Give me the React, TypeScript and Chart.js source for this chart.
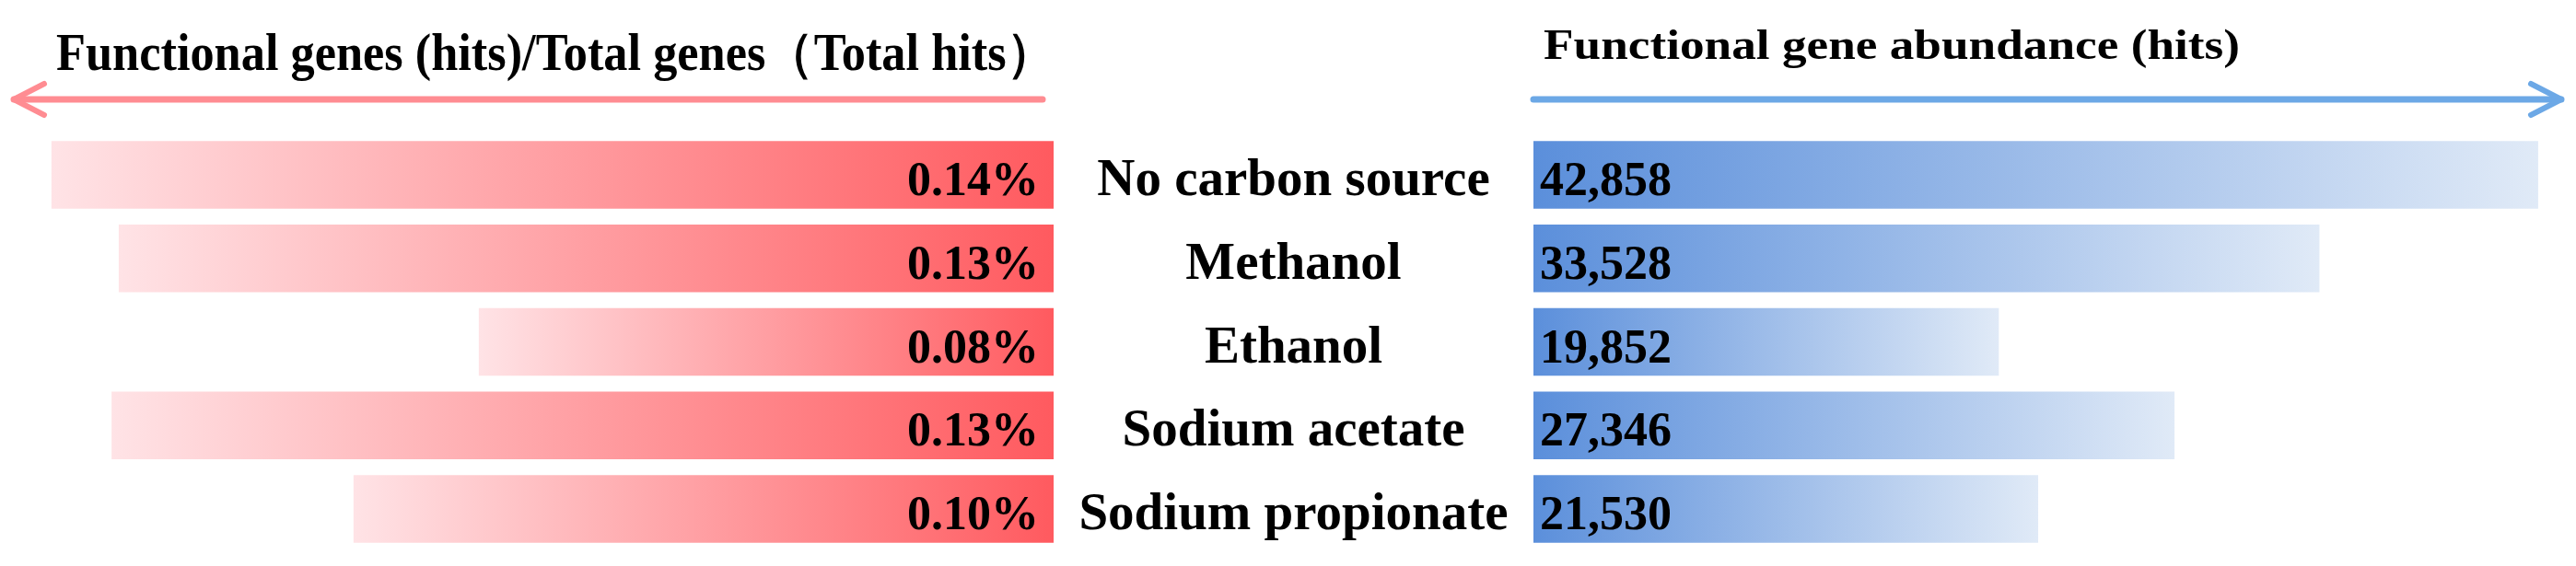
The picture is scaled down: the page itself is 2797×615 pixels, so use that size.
import React, { useEffect, useRef } from 'react';
import { Chart, registerables } from 'chart.js';

Chart.register(...registerables);

// ---- data ----
const categories = ['No carbon source', 'Methanol', 'Ethanol', 'Sodium acetate', 'Sodium propionate'];
const ratioPercent = [0.14, 0.1306, 0.0803, 0.1316, 0.0978];
const abundanceHits = [42858, 33528, 19852, 27346, 21530];
const leftTitle = 'Functional genes (hits)/Total genes（Total hits）';
const rightTitle = 'Functional gene abundance (hits)';
const ratioAxisMax = 0.145;
const hitsAxisMax = 44000;

// ---- layout / style ----
const W = 2797;
const H = 615;
const LEFT_W = 1144;
const RIGHT_W = W - LEFT_W;
const GAP_W = 521;
const PAD_TOP = 144.5;
const PAD_BOTTOM = 16.5;
const SERIF = "'Liberation Serif', 'Times New Roman', serif";
const RED_LIGHT = [255, 227, 230];
const RED_DARK = [255, 90, 95];
const BLUE_DARK = [91, 143, 219];
const BLUE_LIGHT = [224, 234, 247];
const rgb = (c: number[]) => `rgb(${c[0]},${c[1]},${c[2]})`;

function drawFitText(ctx: CanvasRenderingContext2D, text: string, x: number, y: number, font: string, targetW: number) {
  ctx.save();
  ctx.font = font;
  const w = ctx.measureText(text).width;
  ctx.translate(x, y);
  ctx.scale(targetW / w, 1);
  ctx.textAlign = 'left';
  ctx.textBaseline = 'alphabetic';
  ctx.fillStyle = '#000';
  ctx.fillText(text, 0, 0);
  ctx.restore();
}

function drawArrow(ctx: CanvasRenderingContext2D, x0: number, tip: number, y: number, color: string) {
  const dir = tip > x0 ? 1 : -1;
  ctx.save();
  ctx.strokeStyle = color;
  ctx.lineWidth = 7;
  ctx.lineCap = 'round';
  ctx.lineJoin = 'round';
  ctx.beginPath();
  ctx.moveTo(x0, y);
  ctx.lineTo(tip, y);
  ctx.stroke();
  ctx.lineWidth = 6;
  ctx.beginPath();
  ctx.moveTo(tip - dir * 33, y - 17);
  ctx.lineTo(tip, y);
  ctx.lineTo(tip - dir * 33, y + 17);
  ctx.stroke();
  ctx.restore();
}

function gradientFor(c: any, light: number[], dark: number[], lightAtValueEnd: boolean) {
  const chart = c.chart;
  if (!chart.chartArea || c.type !== 'data') return rgb(dark);
  const xs = chart.scales.x;
  const p0 = xs.getPixelForValue(0);
  const p1 = xs.getPixelForValue(c.raw);
  const g = chart.ctx.createLinearGradient(p1, 0, p0, 0);
  if (lightAtValueEnd) {
    g.addColorStop(0, rgb(light));
    g.addColorStop(1, rgb(dark));
  } else {
    g.addColorStop(0, rgb(light));
    g.addColorStop(1, rgb(dark));
  }
  return g;
}

export default function App() {
  const leftRef = useRef<HTMLCanvasElement>(null);
  const rightRef = useRef<HTMLCanvasElement>(null);

  useEffect(() => {
    const leftPlugin = {
      id: 'leftDecor',
      afterDatasetsDraw(chart: any) {
        const ctx = chart.ctx as CanvasRenderingContext2D;
        const meta = chart.getDatasetMeta(0);
        const base = chart.scales.x.getPixelForValue(0);
        ctx.save();
        ctx.font = `bold 52px ${SERIF}`;
        ctx.fillStyle = '#000';
        ctx.textAlign = 'right';
        ctx.textBaseline = 'alphabetic';
        meta.data.forEach((bar: any, i: number) => {
          ctx.fillText(ratioPercent[i].toFixed(2) + '%', base - 16, bar.y + 22);
        });
        ctx.restore();
      },
      afterDraw(chart: any) {
        const ctx = chart.ctx as CanvasRenderingContext2D;
        drawFitText(ctx, leftTitle, 61, 76, `bold 56px ${SERIF}`, 1084);
        drawArrow(ctx, chart.chartArea.right - 12, 15, 108, '#FF8C92');
      },
    };

    const rightPlugin = {
      id: 'rightDecor',
      afterDatasetsDraw(chart: any) {
        const ctx = chart.ctx as CanvasRenderingContext2D;
        const meta = chart.getDatasetMeta(0);
        const base = chart.scales.x.getPixelForValue(0);
        const ys = chart.scales.y;
        ctx.save();
        ctx.font = `bold 52px ${SERIF}`;
        ctx.fillStyle = '#000';
        ctx.textAlign = 'left';
        ctx.textBaseline = 'alphabetic';
        meta.data.forEach((bar: any, i: number) => {
          ctx.fillText(abundanceHits[i].toLocaleString('en-US'), base + 7, bar.y + 22);
        });
        ctx.font = `bold 57px ${SERIF}`;
        ctx.textAlign = 'center';
        const cx = chart.chartArea.left - GAP_W / 2;
        categories.forEach((label, i) => {
          ctx.fillText(label, cx, ys.getPixelForTick(i) + 22);
        });
        ctx.restore();
      },
      afterDraw(chart: any) {
        const ctx = chart.ctx as CanvasRenderingContext2D;
        drawFitText(ctx, rightTitle, chart.chartArea.left + 11, 64, `bold 47px ${SERIF}`, 756);
        drawArrow(ctx, chart.chartArea.left, 1637, 108, '#6CA8E6');
      },
    };

    const left = new Chart(leftRef.current!, {
      type: 'bar',
      data: {
        labels: categories,
        datasets: [
          {
            data: ratioPercent,
            backgroundColor: (c: any) => gradientFor(c, RED_LIGHT, RED_DARK, true),
            borderWidth: 0,
            barPercentage: 0.81,
            categoryPercentage: 1,
          },
        ],
      },
      options: {
        indexAxis: 'y',
        responsive: false,
        animation: false,
        devicePixelRatio: 1,
        layout: { padding: { left: 17, right: 0, top: PAD_TOP, bottom: PAD_BOTTOM } },
        plugins: { legend: { display: false }, tooltip: { enabled: false }, title: { display: false } },
        scales: {
          x: { type: 'linear', reverse: true, min: 0, max: ratioAxisMax, display: false },
          y: { type: 'category', display: false },
        },
      },
      plugins: [leftPlugin],
    } as any);

    const right = new Chart(rightRef.current!, {
      type: 'bar',
      data: {
        labels: categories,
        datasets: [
          {
            data: abundanceHits,
            backgroundColor: (c: any) => gradientFor(c, BLUE_LIGHT, BLUE_DARK, true),
            borderWidth: 0,
            barPercentage: 0.81,
            categoryPercentage: 1,
          },
        ],
      },
      options: {
        indexAxis: 'y',
        responsive: false,
        animation: false,
        devicePixelRatio: 1,
        layout: { padding: { left: 0, right: 12, top: PAD_TOP, bottom: PAD_BOTTOM } },
        plugins: { legend: { display: false }, tooltip: { enabled: false }, title: { display: false } },
        scales: {
          x: { type: 'linear', min: 0, max: hitsAxisMax, display: false },
          y: {
            type: 'category',
            display: true,
            grid: { display: false, drawTicks: false },
            border: { display: false },
            ticks: { display: false },
            afterFit: (s: any) => {
              s.width = GAP_W;
            },
          },
        },
      },
      plugins: [rightPlugin],
    } as any);

    return () => {
      left.destroy();
      right.destroy();
    };
  }, []);

  return (
    <div style={{ position: 'fixed', left: 0, top: 0, width: W, height: H, background: '#fff' }}>
      <canvas
        ref={leftRef}
        width={LEFT_W}
        height={H}
        style={{ position: 'absolute', left: 0, top: 0, width: LEFT_W, height: H }}
      />
      <canvas
        ref={rightRef}
        width={RIGHT_W}
        height={H}
        style={{ position: 'absolute', left: LEFT_W, top: 0, width: RIGHT_W, height: H }}
      />
    </div>
  );
}
